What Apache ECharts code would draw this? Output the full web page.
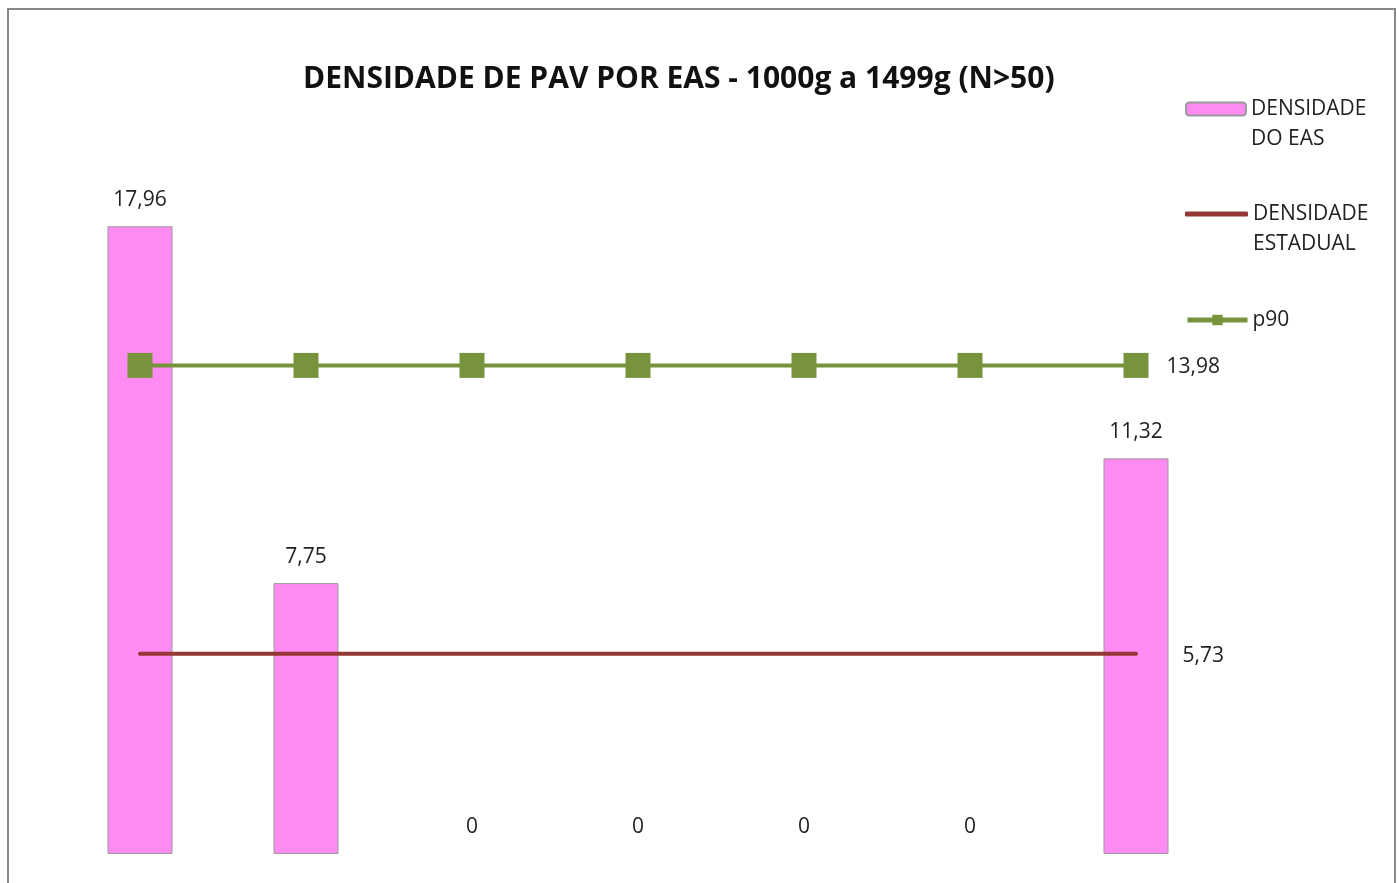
<!DOCTYPE html>
<html>
<head>
<meta charset="utf-8">
<script src="https://cdn.jsdelivr.net/npm/echarts@6/dist/echarts.min.js"></script>
<style>
    html, body { margin: 0; padding: 0; background: #fff; }
    #chart { width: 1399px; height: 883px; }
</style>
</head>
<body>
<div id="chart"></div>
<script>
    // dados
    var categorias = ['EAS 1', 'EAS 2', 'EAS 3', 'EAS 4', 'EAS 5', 'EAS 6', 'EAS 7'];
    var densidadeEAS = [17.96, 7.75, 0, 0, 0, 0, 11.32];
    var densidadeEstadual = [5.73, 5.73, 5.73, 5.73, 5.73, 5.73, 5.73];
    var p90 = [13.98, 13.98, 13.98, 13.98, 13.98, 13.98, 13.98];
    var nomes = ['DENSIDADE\nDO EAS', 'DENSIDADE\nESTADUAL', 'p90'];

    var fonte = '"Open Sans", sans-serif';
    function virgula(v) {
        return v === 0 ? '0' : v.toFixed(2).replace('.', ',');
    }
    // só o último ponto da linha leva rótulo
    function ultimoRotulo(arr, dist) {
        return arr.map(function (v, i) {
            if (i !== arr.length - 1) return v;
            return {
                value: v,
                label: { show: true, position: 'right', distance: dist, formatter: function (p) { return virgula(p.value); } }
            };
        });
    }
    // barras com valor 0 ficam sem contorno
    var barrasEAS = densidadeEAS.map(function (v) {
        return v === 0 ? { value: v, itemStyle: { borderWidth: 0 } } : v;
    });

    var legendaBase = {
        orient: 'vertical',
        left: 1185,
        padding: 0,
        itemWidth: 60,
        itemHeight: 13,
        lineStyle: { width: 5 },
        // linha em branco antes para o ícone ficar na altura da primeira linha
        formatter: function (n) { return n.indexOf('\n') >= 0 ? ' \n' + n : n; },
        textStyle: { fontFamily: fonte, fontSize: 21, color: '#222', lineHeight: 30 }
    };

    var chart = echarts.init(document.getElementById('chart'));
    var option = {
        backgroundColor: '#fff',
        animation: false,
        title: {
            text: 'DENSIDADE DE PAV POR EAS - 1000g a 1499g (N>50)',
            left: 298,
            top: 59,
            textStyle: { fontFamily: fonte, fontSize: 30, fontWeight: 'bold', color: '#111' }
        },
        legend: [
            Object.assign({}, legendaBase, { top: 64, data: [nomes[0]] }),
            Object.assign({}, legendaBase, {
                top: 169, itemWidth: 63, itemHeight: 5,
                data: [{ name: nomes[1], icon: 'roundRect' }]
            }),
            Object.assign({}, legendaBase, { top: 305, data: [nomes[2]] })
        ],
        grid: { left: 57, right: 180, top: 155, bottom: 29 },
        xAxis: {
            type: 'category',
            data: categorias,
            show: false
        },
        yAxis: {
            type: 'value',
            min: 0,
            max: 20,
            show: false
        },
        series: [
            {
                name: nomes[0],
                type: 'bar',
                data: barrasEAS,
                barWidth: 65,
                itemStyle: { color: '#fd8bf1', borderColor: '#9a9a9a', borderWidth: 1 },
                label: {
                    show: true,
                    position: 'top',
                    distance: 16,
                    fontFamily: fonte,
                    fontSize: 21,
                    color: '#222',
                    formatter: function (p) { return virgula(p.value); }
                }
            },
            {
                name: nomes[1],
                type: 'line',
                data: ultimoRotulo(densidadeEstadual, 46),
                symbol: 'circle',
                symbolSize: 1,
                lineStyle: { color: '#953735', width: 4, cap: 'round' },
                itemStyle: { color: '#953735' },
                label: { fontFamily: fonte, fontSize: 21, color: '#222', offset: [0, 2] },
                z: 3
            },
            {
                name: nomes[2],
                type: 'line',
                data: ultimoRotulo(p90, 18),
                symbol: 'rect',
                symbolSize: 25,
                lineStyle: { color: '#77933c', width: 4 },
                itemStyle: { color: '#77933c' },
                label: { fontFamily: fonte, fontSize: 21, color: '#222', offset: [0, 2] },
                z: 4
            }
        ],
        graphic: [
            {
                type: 'rect',
                shape: { x: 8, y: 9, width: 1387, height: 900 },
                style: { fill: 'none', stroke: '#878787', lineWidth: 2 },
                silent: true
            }
        ]
    };
    chart.setOption(option);
</script>
</body>
</html>
